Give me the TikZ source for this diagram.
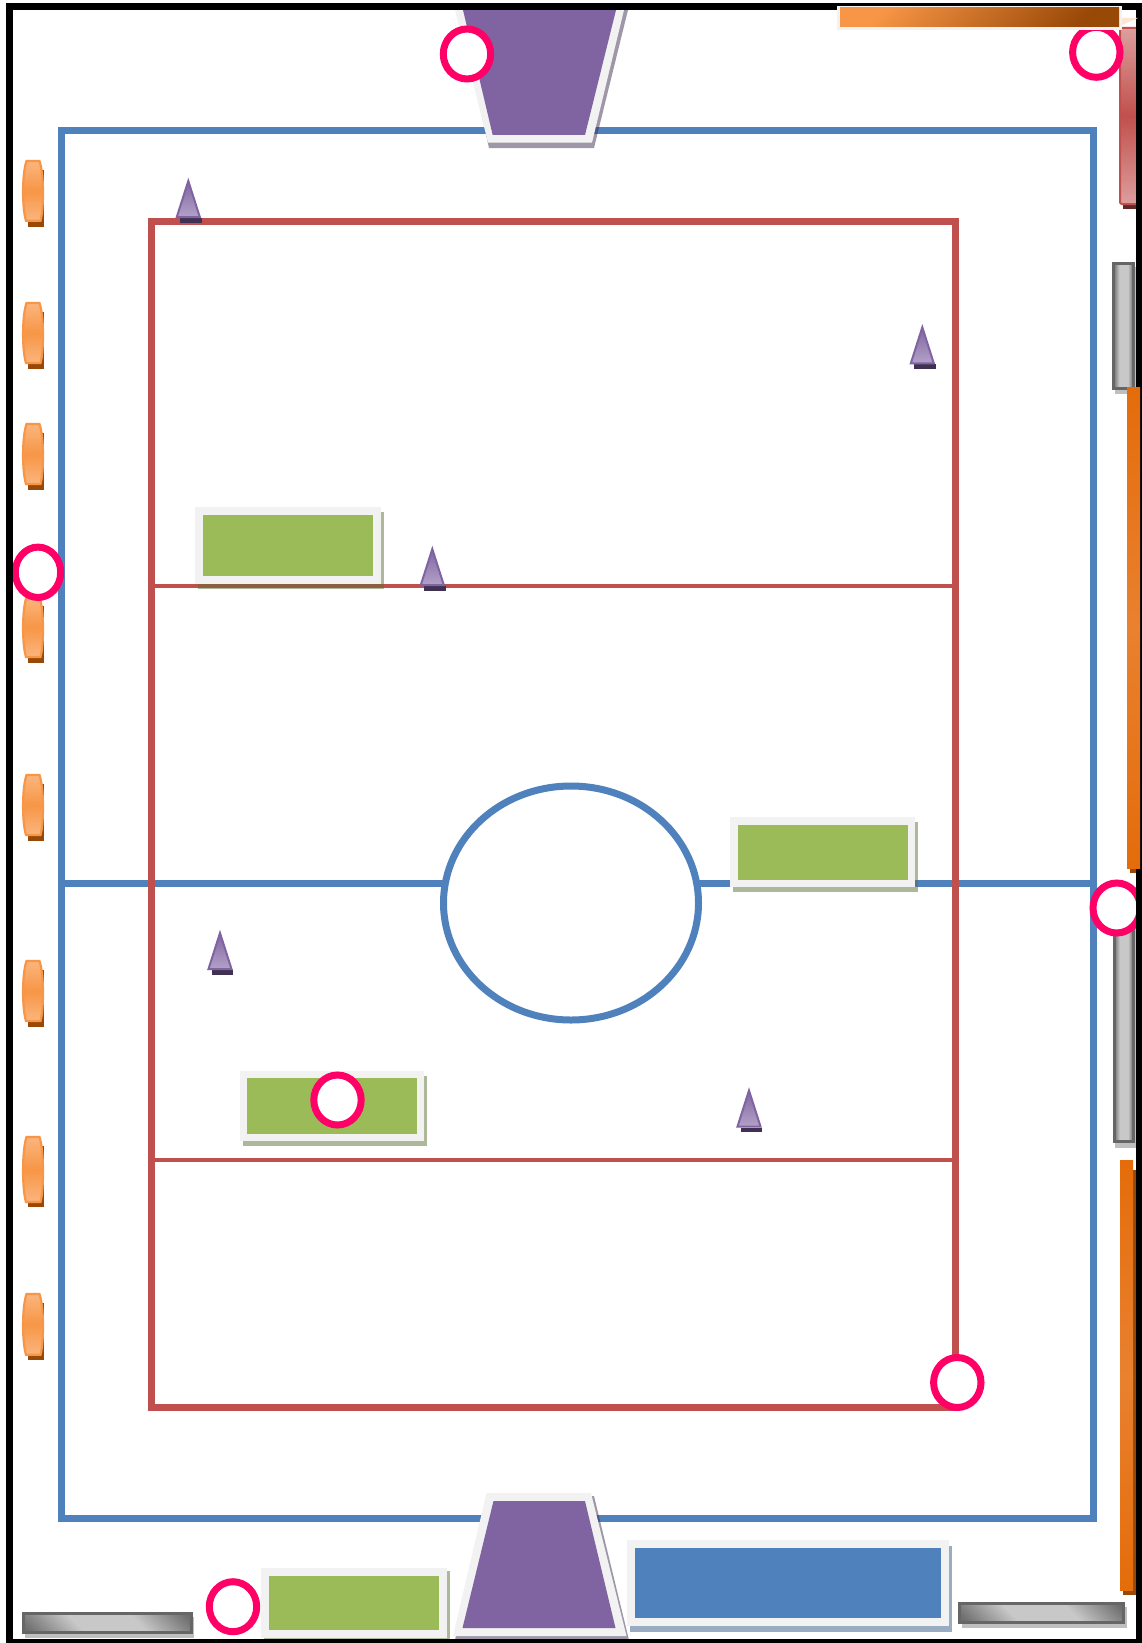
\documentclass[tikz,border=0pt]{standalone}
\definecolor{cBlue}{HTML}{4F81BD}
\definecolor{cRed}{HTML}{C0504D}
\definecolor{cGreen}{HTML}{9BBB59}
\definecolor{cPurple}{HTML}{8064A2}
\definecolor{cPink}{HTML}{FF0066}
\definecolor{cRim}{HTML}{F2F2F2}
\definecolor{cOrange}{HTML}{F79646}
\definecolor{cOrangeLt}{HTML}{FBB57E}
\definecolor{cOrangeDk}{HTML}{984807}
\definecolor{cDeep}{HTML}{E46C0A}
\definecolor{cDeepLt}{HTML}{E9812F}
\definecolor{cGrayEdge}{HTML}{666666}
\definecolor{cGrayMid}{HTML}{C8C8C8}
\definecolor{cGrayDk}{HTML}{6E6E6E}
\definecolor{cShadow}{HTML}{BFBFBF}
\definecolor{cConeLt}{HTML}{B3A2C7}
\definecolor{cConeDk}{HTML}{403152}
\pgfdeclarehorizontalshading{grayV}{100bp}{color(0bp)=(cGrayDk); color(25bp)=(cGrayDk); color(40bp)=(cGrayMid); color(62bp)=(cGrayMid); color(75bp)=(cGrayDk); color(100bp)=(cGrayDk)}
\pgfdeclarehorizontalshading{grayD}{100bp}{color(0bp)=(cGrayDk); color(17bp)=(cGrayDk); color(38bp)=(cGrayMid); color(62bp)=(cGrayMid); color(83bp)=(cGrayDk); color(100bp)=(cGrayDk)}
\tikzset{
  fieldline/.style={line width=7pt,line join=miter},
  blueline/.style={fieldline,draw=cBlue},
  redline/.style={fieldline,draw=cRed},
  thinred/.style={draw=cRed,line width=4pt},
  ringmark/.style={draw=cPink,fill=white,line width=7pt},
  rimfill/.style={fill=cRim},
  softshadow/.style={fill=#1,fill opacity=.5},
  pillbody/.style={draw=cOrange,line width=2.2pt,top color=cOrangeLt,bottom color=cOrangeLt,middle color=cOrange},
  conebody/.style={draw=cPurple,line width=2pt,line join=miter,top color=cPurple,bottom color=cConeLt},
  graybar/.style={draw=cGrayEdge,line width=3pt},
  deepbar/.style={fill=cDeep},
}
\newcommand{\myPill}[3]{% top, bottom, shadow bottom
  \fill[cOrangeDk] (27.7,#1+10) rectangle (44,#3);
  \path[pillbody] (26.5,#1+1) -- (39.5,#1+1) .. controls (44,#1+14) and (44,#2-14) .. (40.5,#2-1)
    -- (26,#2-1) .. controls (22,#2-14) and (22,#1+14) .. (26.5,#1+1) -- cycle;
}
\newcommand{\myCone}[2]{% apex x, apex y
  \fill[cConeDk] (#1-8.3,#2+40) rectangle (#1+13.4,#2+44.7);
  \path[conebody] (#1,#2+3) -- (#1+11.5,#2+39) -- (#1-11.5,#2+39) -- cycle;
}
\newcommand{\myBox}[9]{% shadow colour, fill colour, x0,y0,x1,y1 outer; inset; shadow dx, dy
  \fill[softshadow=#1] (#3+#8,#4+#9) rectangle (#5+#8,#6+#9);
  \fill[rimfill] (#3,#4) rectangle (#5,#6);
  \fill[#2] (#3+#7,#4+#7) rectangle (#5-#7,#6-#7);
}
\begin{document}
\begin{tikzpicture}[x=1pt,y=-1pt]
\clip (0,0) rectangle (1142,1643);
\fill[white] (0,0) rectangle (1142,1643);
% field
\draw[blueline] (61,130.5) rectangle (1093.5,1518);
\draw[blueline] (61,883) -- (1093.5,883);
\draw[redline] (151.5,221.5) rectangle (955.5,1407.5);
\draw[thinred] (155,586) -- (958.5,586);
\draw[thinred] (155,1160) -- (958.5,1160);
\draw[blueline,fill=white] (571,903) ellipse [x radius=127.5,y radius=117];
% goals
\fill[softshadow=cConeDk] (458,10) -- (628,10) -- (594,148) -- (489,148) -- cycle;
\fill[rimfill] (455,10) -- (624,10) -- (592,142.7) -- (488,142.7) -- cycle;
\fill[cPurple] (463,10) -- (616,10) -- (585,135) -- (492.7,135) -- cycle;
\fill[softshadow=cConeDk] (489,1496) -- (594,1496) -- (629,1640) -- (455,1640) -- cycle;
\fill[rimfill] (486.5,1493) -- (591,1493) -- (626.5,1636) -- (453,1636) -- cycle;
\fill[cPurple] (493.5,1501) -- (585,1501) -- (615.5,1628) -- (462.5,1628) -- cycle;
% boxes
\myBox{cGreen!60!black}{cGreen}{195}{507}{381}{584}{8}{3}{5}
\myBox{cGreen!60!black}{cGreen}{730}{817}{915}{887}{7.5}{3}{5}
\myBox{cGreen!60!black}{cGreen}{240}{1071}{424}{1141}{7}{3}{5}
\myBox{cGreen!60!black}{cGreen}{261}{1568}{447}{1638}{8}{3}{3}
\myBox{cBlue!70!black}{cBlue}{627}{1540}{949}{1626}{8}{3}{5.5}
% left orange pills
\myPill{160}{221.7}{226.7}
\myPill{302}{364}{369}
\myPill{423}{485}{490}
\myPill{596}{658}{662.7}
\myPill{774}{836}{841}
\myPill{960}{1022}{1027}
\myPill{1136}{1203}{1207}
\myPill{1293}{1355.7}{1360}
% cones
\myCone{188.3}{178}
\myCone{922.3}{324.3}
\myCone{432.3}{546}
\myCone{220}{930}
\myCone{749}{1087.5}
% red bar top right
\fill[cRed!50!black] (1123,190) rectangle (1137,209);
\draw[cRed,line width=2pt,rounded corners=2pt,top color=cRed!55!white,bottom color=cRed!55!white,middle color=cRed]
  (1120,28) rectangle (1140,204);
% gray bars
\fill[cShadow] (1115,267) rectangle (1135.5,394);
\draw[graybar,shading=grayV] (1113.5,263.5) rectangle (1133,388);
\fill[cShadow] (1115,905) rectangle (1135.5,1148);
\draw[graybar,shading=grayV] (1114,905) rectangle (1133,1141.5);
\fill[cShadow] (25,1617) rectangle (194,1637.7);
\draw[graybar,shading=grayD,shading angle=45] (23,1613.5) rectangle (191,1632);
\fill[cShadow] (962,1607) rectangle (1127,1627.7);
\draw[graybar,shading=grayD,shading angle=45] (959.5,1603.5) rectangle (1123.5,1622);
% markers
\draw[ringmark] (1096.3,52.3) ellipse [x radius=23.7,y radius=25];
\draw[ringmark] (467,54) ellipse [x radius=23.7,y radius=25];
\draw[ringmark] (38,572.3) ellipse [x radius=22.7,y radius=25.2];
\draw[ringmark] (1116.7,908) ellipse [x radius=23.7,y radius=25];
\draw[ringmark] (337.5,1100) ellipse [x radius=23.7,y radius=25];
\draw[ringmark] (957.3,1382.5) ellipse [x radius=23.7,y radius=25];
\draw[ringmark] (233,1606.7) ellipse [x radius=23.7,y radius=25];
% frame
\draw[black,line width=7pt] (9,6.7) rectangle (1139.5,1642.5);
% right orange bars
\fill[cOrangeDk] (1130,800) rectangle (1136,872.6);
\fill[deepbar,bottom color=cDeep,top color=cDeep,middle color=cDeepLt] (1127,387) rectangle (1140,868);
\fill[cOrangeDk] (1123,1170) rectangle (1136,1595);
\fill[deepbar,bottom color=cDeep,top color=cDeep,middle color=cDeepLt] (1120,1160) rectangle (1133,1590);
% top orange bar
\fill[cOrange!25!white] (1122,25) -- (1138,18) -- (1122,18) -- cycle;
\fill[cRim] (837,6) rectangle (1122,30);
\path[left color=cOrange,right color=cOrangeDk,shading angle=45] (840,8) rectangle (1119,27);
\end{tikzpicture}
\end{document}
